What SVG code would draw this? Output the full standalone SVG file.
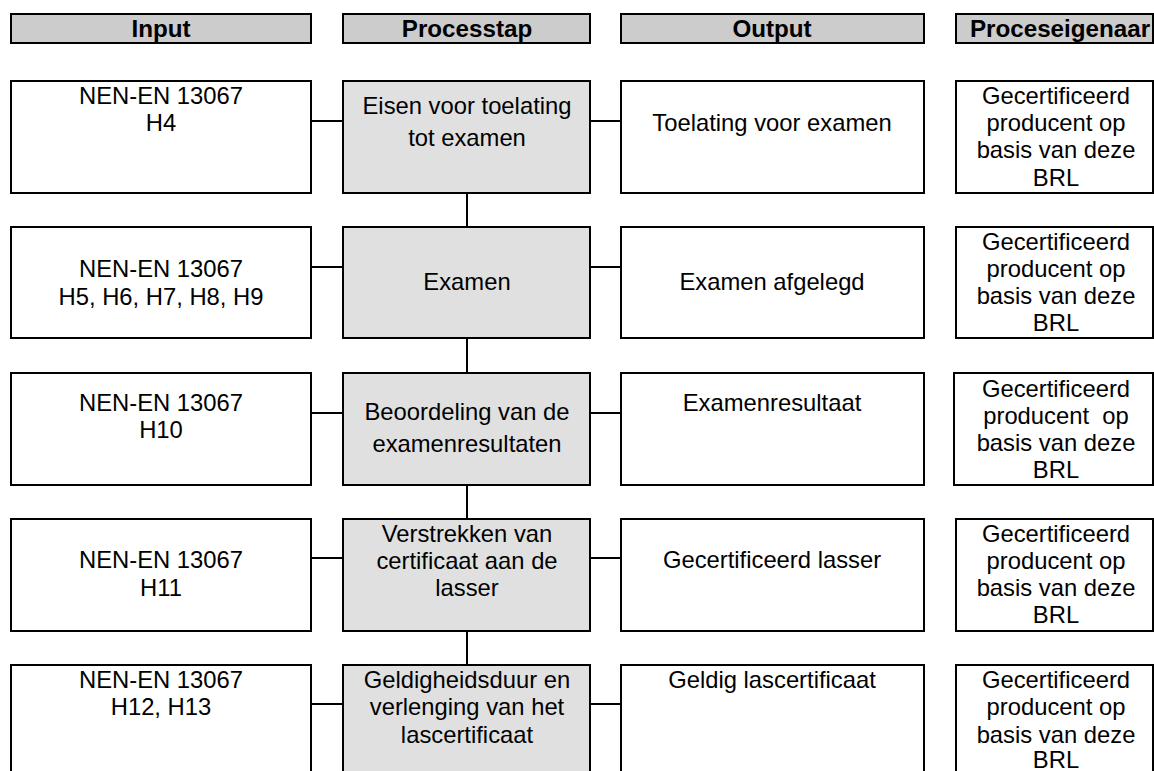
<svg xmlns="http://www.w3.org/2000/svg" width="1154" height="771" viewBox="0 0 1154 771">
<style>
.hdr{fill:#cccccc;stroke:#000;stroke-width:2}
.box{fill:#ffffff;stroke:#000;stroke-width:2}
.proc{fill:#e0e0e0;stroke:#000;stroke-width:2}
.conn{stroke:#000;stroke-width:2;fill:none}
text{font-family:"Liberation Sans",Arial,sans-serif;font-size:23.8px;fill:#000;text-anchor:middle}
.h{font-weight:bold;font-size:24.2px}
</style>
<rect width="1154" height="771" fill="#fff"/>
<g id="headers">
<rect class="hdr" x="11" y="14" width="300" height="29"/>
<text class="h" x="161" y="37">Input</text>
<rect class="hdr" x="343" y="14" width="247" height="29"/>
<text class="h" x="467" y="37">Processtap</text>
<rect class="hdr" x="621" y="14" width="303" height="29"/>
<text class="h" x="772" y="37">Output</text>
<rect class="hdr" x="956" y="14" width="197" height="29"/>
<text class="h" x="1060" y="37">Proceseigenaar</text>
</g>
<g id="connectors">
<path class="conn" d="M311 121H343M590 121H621"/>
<path class="conn" d="M311 267H343M590 267H621"/>
<path class="conn" d="M311 413H343M590 413H621"/>
<path class="conn" d="M311 558H343M590 558H621"/>
<path class="conn" d="M311 704H343M590 704H621"/>
<path class="conn" d="M467 193V227M467 338V373M467 485V519M467 631V665"/>
</g>
<g id="row1">
<g id="in1"><rect class="box" x="11" y="81" width="300" height="112"/><text x="161" y="104">NEN-EN 13067</text><text x="161" y="131">H4</text></g>
<g id="p1"><rect class="proc" x="343" y="81" width="247" height="112"/><text x="467" y="114">Eisen voor toelating</text><text x="467" y="146">tot examen</text></g>
<g id="out1"><rect class="box" x="621" y="81" width="303" height="112"/><text x="772" y="131">Toelating voor examen</text></g>
<g id="own1"><rect class="box" x="956" y="81" width="197" height="112"/><text x="1056" y="104">Gecertificeerd</text><text x="1056" y="131">producent op</text><text x="1056" y="158">basis van deze</text><text x="1056" y="186">BRL</text></g>
</g>
<g id="row2">
<g id="in2"><rect class="box" x="11" y="227" width="300" height="111"/><text x="161" y="277">NEN-EN 13067</text><text x="161" y="305">H5, H6, H7, H8, H9</text></g>
<g id="p2"><rect class="proc" x="343" y="227" width="247" height="111"/><text x="467" y="290">Examen</text></g>
<g id="out2"><rect class="box" x="621" y="227" width="303" height="111"/><text x="772" y="290">Examen afgelegd</text></g>
<g id="own2"><rect class="box" x="956" y="227" width="197" height="111"/><text x="1056" y="250">Gecertificeerd</text><text x="1056" y="277">producent op</text><text x="1056" y="304">basis van deze</text><text x="1056" y="331">BRL</text></g>
</g>
<g id="row3">
<g id="in3"><rect class="box" x="11" y="373" width="300" height="112"/><text x="161" y="411">NEN-EN 13067</text><text x="161" y="438">H10</text></g>
<g id="p3"><rect class="proc" x="343" y="373" width="247" height="112"/><text x="467" y="420">Beoordeling van de</text><text x="467" y="452">examenresultaten</text></g>
<g id="out3"><rect class="box" x="621" y="373" width="303" height="112"/><text x="772" y="411">Examenresultaat</text></g>
<g id="own3"><rect class="box" x="954" y="373" width="199" height="112"/><text x="1056" y="397">Gecertificeerd</text><text x="1056" y="424" style="white-space:pre">producent  op</text><text x="1056" y="451">basis van deze</text><text x="1056" y="478">BRL</text></g>
</g>
<g id="row4">
<g id="in4"><rect class="box" x="11" y="519" width="300" height="112"/><text x="161" y="568">NEN-EN 13067</text><text x="161" y="596">H11</text></g>
<g id="p4"><rect class="proc" x="343" y="519" width="247" height="112"/><text x="467" y="542">Verstrekken van</text><text x="467" y="569">certificaat aan de</text><text x="467" y="596">lasser</text></g>
<g id="out4"><rect class="box" x="621" y="519" width="303" height="112"/><text x="772" y="568">Gecertificeerd lasser</text></g>
<g id="own4"><rect class="box" x="956" y="519" width="197" height="112"/><text x="1056" y="542">Gecertificeerd</text><text x="1056" y="569">producent op</text><text x="1056" y="596">basis van deze</text><text x="1056" y="623">BRL</text></g>
</g>
<g id="row5">
<g id="in5"><rect class="box" x="11" y="665" width="300" height="130"/><text x="161" y="688">NEN-EN 13067</text><text x="161" y="715">H12, H13</text></g>
<g id="p5"><rect class="proc" x="343" y="665" width="247" height="130"/><text x="467" y="688">Geldigheidsduur en</text><text x="467" y="715">verlenging van het</text><text x="467" y="743">lascertificaat</text></g>
<g id="out5"><rect class="box" x="621" y="665" width="303" height="130"/><text x="772" y="688">Geldig lascertificaat</text></g>
<g id="own5"><rect class="box" x="956" y="665" width="197" height="130"/><text x="1056" y="688">Gecertificeerd</text><text x="1056" y="715">producent op</text><text x="1056" y="743">basis van deze</text><text x="1056" y="768">BRL</text></g>
</g>
</svg>
